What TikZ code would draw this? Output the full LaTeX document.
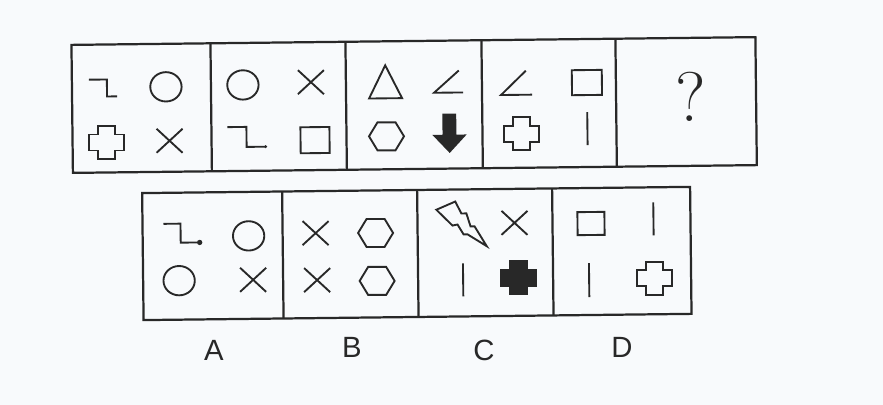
\documentclass[tikz,border=0pt]{standalone}
\usepackage{fontspec}
\newfontfamily\labfont{Liberation Sans}
\definecolor{ink}{RGB}{40,40,40}
\definecolor{paper}{RGB}{248,250,252}
\tikzset{
  frame/.style={draw=ink, line width=1.9pt, line join=miter},
  sym/.style={draw=ink, line width=1.6pt, line join=miter},
  lab/.style={font=\labfont\fontsize{25}{26}\selectfont, text=ink, inner sep=0pt},
  pics/xmk/.style={code={\draw[sym] (-13,-12)--(13,12) (-13,12)--(13,-12);}},
  pics/circ/.style={code={\draw[sym] (0,0) ellipse [x radius=0.47cm, y radius=0.44cm];}},
  pics/hexa/.style={code={\draw[sym] (-17.5,0)--(-9,-14)--(9,-14)--(17.5,0)--(9,14)--(-9,14)--cycle;}},
  pics/plusout/.style={code={\draw[sym] (-8.5,-16.5)--(8.5,-16.5)--(8.5,-8)--(17.5,-8)--(17.5,8)--(8.5,8)--(8.5,16.5)--(-8.5,16.5)--(-8.5,8)--(-17.5,8)--(-17.5,-8)--(-8.5,-8)--cycle;}},
  pics/plusfill/.style={code={\filldraw[sym, fill=ink] (-8.5,-16.5)--(8.5,-16.5)--(8.5,-8)--(17.5,-8)--(17.5,8)--(8.5,8)--(8.5,16.5)--(-8.5,16.5)--(-8.5,8)--(-17.5,8)--(-17.5,-8)--(-8.5,-8)--cycle;}}
}
\begin{document}
\begin{tikzpicture}[x=0.03cm, y=-0.03cm]
\fill[paper] (0,0) rectangle (883,405);
\useasboundingbox (0,0) rectangle (883,405);
\begin{scope}[rotate around={0.65:(415,180)}]
% top row frame
\draw[frame] (73,41) rectangle (757,169);
\foreach \xx in {212,347,483,617} \draw[frame] (\xx,41) -- (\xx,169);
% bottom row frame
\draw[frame] (142,190) rectangle (690,317);
\foreach \xx in {282,417,552} \draw[frame] (\xx,190) -- (\xx,317);

% cell 1
\draw[sym] (90,76) -- (108,76) -- (108,93) -- (118,93);
\pic at (167,84) {circ};
\pic at (107,139) {plusout};
\pic at (170,138) {xmk};
% cell 2
\pic at (244,83) {circ};
\pic at (312,81) {xmk};
\draw[sym] (228,125) -- (247,125) -- (247,145) -- (266,145);
\fill[ink] (266,145) circle (0.05cm);
\draw[sym] (301,126) rectangle (330,152);
% cell 3
\draw[sym] (370,98) -- (403,98) -- (386.5,65) -- cycle;
\draw[sym] (460,71) -- (435,93) -- (464,93);
\pic at (387,136) {hexa};
\filldraw[sym, fill=ink] (444,115) -- (456,115) -- (456,136) -- (465,136) -- (450,152) -- (435,136) -- (444,136) -- cycle;
% cell 4
\draw[sym] (527,72) -- (502,96) -- (533,96);
\draw[sym] (573,72) rectangle (603,97);
\pic at (522,135) {plusout};
\draw[sym] (588,114) -- (588,147);
% cell 5
\node[text=ink, inner sep=0pt, font=\fontsize{60}{62}\selectfont] (q) at (692,100) {?};

% option A
\draw[sym] (163,221) -- (180,221) -- (180,240) -- (199,240);
\fill[ink] (199,240) circle (0.08cm);
\pic at (248,234) {circ};
\pic at (178,278) {circ};
\pic at (252,278) {xmk};
% option B
\pic at (315,232) {xmk};
\pic at (375,232.5) {hexa};
\pic at (316,279) {xmk};
\pic at (376,280.5) {hexa};
% option C
\draw[sym] (436,210) -- (455,202) -- (461,214) -- (466,214) -- (470,227) -- (474,227) -- (486,247) -- (467,235) -- (463,235) -- (457,225) -- (452,226) -- cycle;
\pic at (514,224) {xmk};
\draw[sym] (462,264) -- (462,297);
\pic at (517,279) {plusfill};
% option D
\draw[sym] (577,214) rectangle (604,237);
\draw[sym] (653,205) -- (653,238);
\draw[sym] (588,265) -- (588,299);
\pic at (653,281) {plusout};

% labels
\node[lab] (la) at (212,348) {A};
\node[lab] (lb) at (350,347) {B};
\node[lab] (lc) at (482,351) {C};
\node[lab] (ld) at (620,350) {D};
\end{scope}
\end{tikzpicture}
\end{document}
